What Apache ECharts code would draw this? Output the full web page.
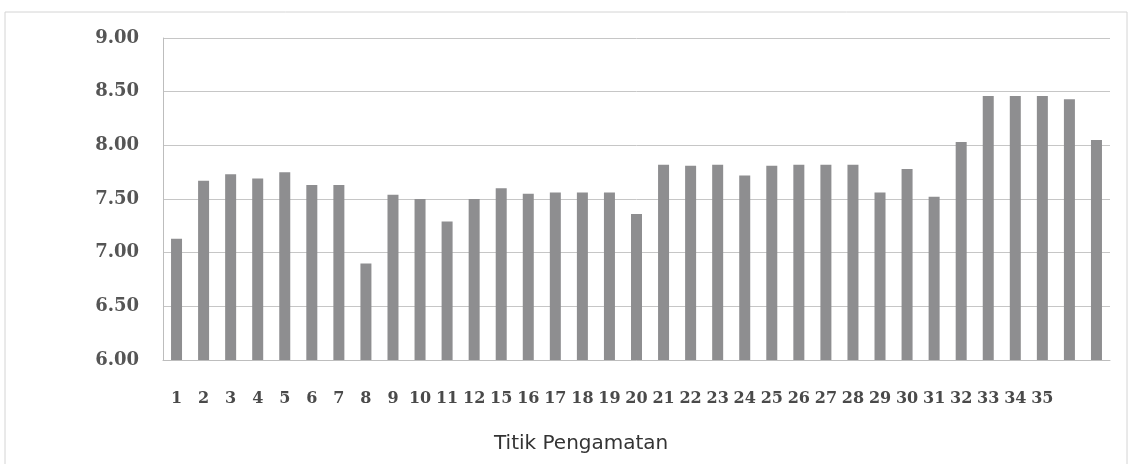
<!DOCTYPE html>
<html>
<head>
<meta charset="utf-8">
<script src="https://cdn.jsdelivr.net/npm/echarts@6/dist/echarts.min.js"></script>
<style>
html,body{margin:0;padding:0;background:#fff;}
#chart{width:1129px;height:464px;}
</style>
</head>
<body>
<div id="chart"></div>
<script>
// Category labels as printed (points 13 and 14 are missing from the label row)
var categories = ['1','2','3','4','5','6','7','8','9','10','11','12','15','16','17','18','19','20','21','22','23','24','25','26','27','28','29','30','31','32','33','34','35','',''];
var values = [7.13,7.67,7.73,7.69,7.75,7.63,7.63,6.90,7.54,7.50,7.29,7.50,7.60,7.55,7.56,7.56,7.56,7.36,
              7.82,7.81,7.82,7.72,7.81,7.82,7.82,7.82,7.56,7.78,7.52,8.03,8.46,8.46,8.46,8.43,8.05];
var yMin = 6, yMax = 9, yStep = 0.5;
var axisTitle = 'Titik Pengamatan';

var chart = echarts.init(document.getElementById('chart'));
chart.setOption({
  animation: false,
  backgroundColor: '#ffffff',
  graphic: [{
    type: 'rect', shape: {x: 5, y: 12, width: 1122, height: 470},
    style: {fill: 'none', stroke: '#d4d4d4', lineWidth: 1}, silent: true, z: -1
  }],
  title: {
    text: axisTitle, left: 489, top: 429,
    textStyle: {fontFamily: 'DejaVu Sans', fontSize: 20, fontWeight: 'normal', color: '#333333'}
  },
  grid: {left: 163, right: 19, top: 38, bottom: 104},
  xAxis: {
    type: 'category', data: categories,
    axisLine: {show: true, lineStyle: {color: '#bdbdbd', width: 1}},
    axisTick: {show: false},
    axisLabel: {interval: 0, margin: 31, fontFamily: 'DejaVu Serif', fontWeight: 'bold', fontSize: 16, color: '#4a4a4a'}
  },
  yAxis: {
    type: 'value', min: yMin, max: yMax, interval: yStep,
    axisLine: {show: true, lineStyle: {color: '#bdbdbd', width: 1}},
    axisTick: {show: false},
    splitLine: {show: true, lineStyle: {color: '#c6c6c6', width: 1}},
    axisLabel: {margin: 24, fontFamily: 'DejaVu Serif', fontWeight: 'bold', fontSize: 18, color: '#555555',
      formatter: function (v) { return v.toFixed(2); }}
  },
  series: [{
    type: 'bar', data: values, barWidth: 11,
    itemStyle: {color: '#8e8e90'}
  }]
});
</script>
</body>
</html>
